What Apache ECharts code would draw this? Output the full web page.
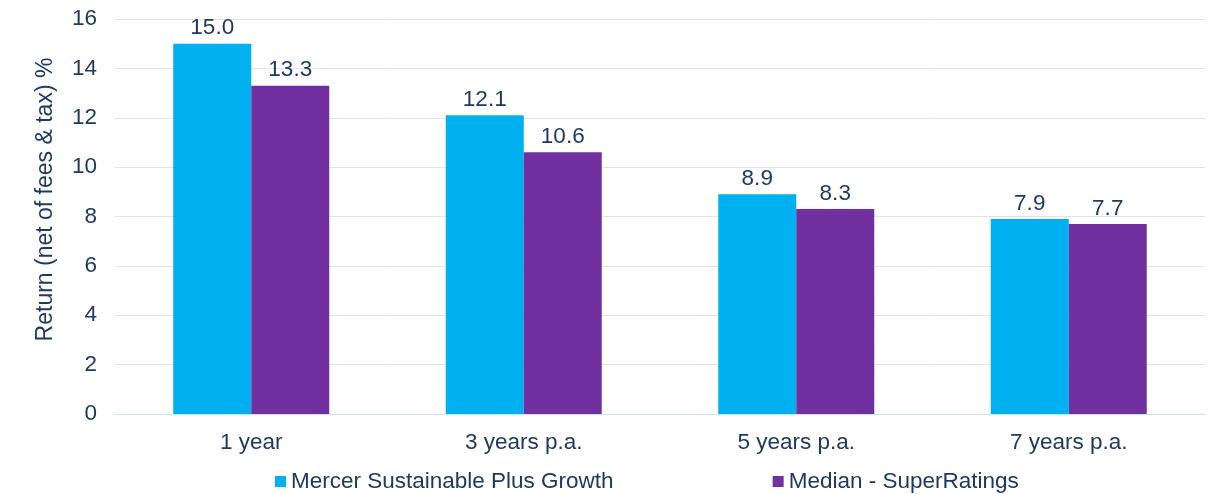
<!DOCTYPE html>
<html><head><meta charset="utf-8">
<script src="https://cdn.jsdelivr.net/npm/echarts@6/dist/echarts.min.js"></script>
<style>html,body{margin:0;padding:0;background:#fff}#c{width:1219px;height:494px}</style>
</head><body><div id="c"></div>
<script>
const categories = ['1 year', '3 years p.a.', '5 years p.a.', '7 years p.a.'];
const mercer = [15.0, 12.1, 8.9, 7.9];
const median = [13.3, 10.6, 8.3, 7.7];
const seriesNames = ['Mercer Sustainable Plus Growth', 'Median - SuperRatings'];
const yTitle = 'Return (net of fees & tax) %';

const txt = '#1F3864';
const font = 'Liberation Sans, Arial, sans-serif';
const fs = 22.5;
const chart = echarts.init(document.getElementById('c'), null, {renderer: 'canvas'});
chart.setOption({
  animation: false,
  textStyle: {fontFamily: font},
  grid: {left: 115, right: 14, top: 19, bottom: 80, containLabel: false},
  legend: {
    top: 470, left: 275, itemWidth: 11, itemHeight: 11, itemGap: 159,
    icon: 'rect', padding: 0,
    textStyle: {color: txt, fontSize: fs, fontFamily: font, padding: [0, 0, 0, 0]},
    data: seriesNames
  },
  xAxis: {
    type: 'category', data: categories,
    axisLine: {show: true, lineStyle: {color: '#C9E6F8', width: 1}},
    axisTick: {show: false},
    axisLabel: {color: txt, fontSize: fs, fontFamily: font, margin: 17}
  },
  yAxis: {
    type: 'value', min: 0, max: 16, interval: 2,
    name: yTitle, nameLocation: 'middle', nameGap: 58, nameRotate: 90,
    nameTextStyle: {color: txt, fontSize: 23, fontFamily: font, padding: [0, 0, 0, 34]},
    axisLine: {show: false}, axisTick: {show: false},
    axisLabel: {color: txt, fontSize: fs, fontFamily: font, margin: 18},
    splitLine: {lineStyle: {color: '#E3E3EA', width: 1}}
  },
  series: [
    {name: seriesNames[0], type: 'bar', data: mercer, barWidth: 78, barGap: '0%',
     itemStyle: {color: '#00B0F0'},
     label: {show: true, position: 'top', distance: 4, color: txt, fontSize: fs, fontFamily: font,
       formatter: p => p.value.toFixed(1)}},
    {name: seriesNames[1], type: 'bar', data: median, barWidth: 78,
     itemStyle: {color: '#7030A0'},
     label: {show: true, position: 'top', distance: 4, color: txt, fontSize: fs, fontFamily: font,
       formatter: p => p.value.toFixed(1)}}
  ]
});
</script></body></html>
